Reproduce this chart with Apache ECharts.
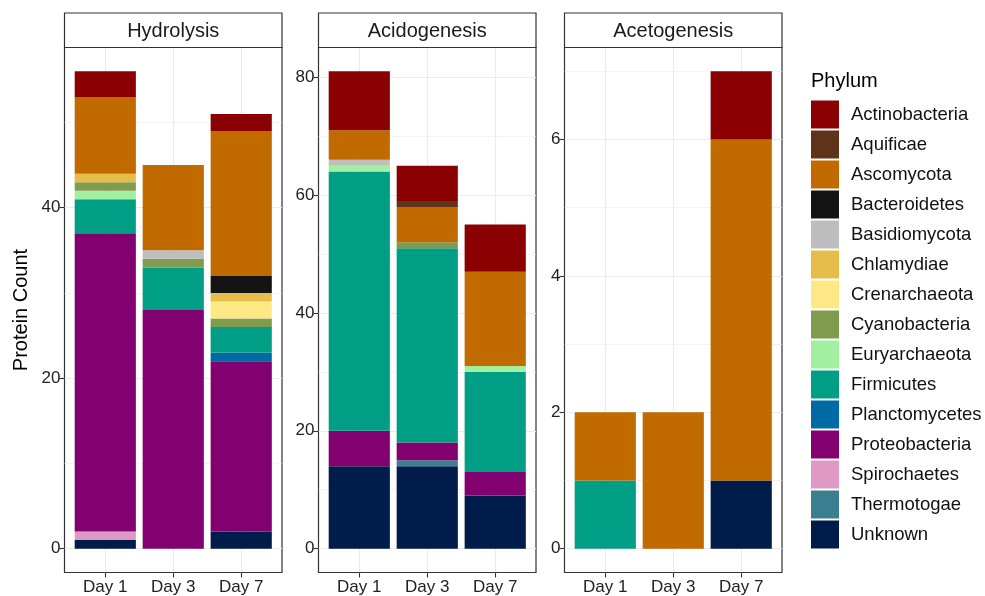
<!DOCTYPE html>
<html>
<head>
<meta charset="utf-8">
<script src="https://cdn.jsdelivr.net/npm/echarts@6/dist/echarts.min.js"></script>
<style>
  html, body { margin: 0; padding: 0; background: #fff; }
  #chart { width: 985px; height: 596px; }
</style>
</head>
<body>
<div id="chart"></div>
<script>
// Phyla in legend order (top of each stack = first entry)
const phyla = ['Actinobacteria', 'Aquificae', 'Ascomycota', 'Bacteroidetes', 'Basidiomycota',
  'Chlamydiae', 'Crenarchaeota', 'Cyanobacteria', 'Euryarchaeota', 'Firmicutes',
  'Planctomycetes', 'Proteobacteria', 'Spirochaetes', 'Thermotogae', 'Unknown'];
const phylumColors = ['#8B0000', '#5E3319', '#C06A00', '#141414', '#BEBEBE',
  '#E6BD4B', '#FEE885', '#7F9B4E', '#A2EFA0', '#009E85',
  '#006AA4', '#820070', '#DE9AC5', '#3B7E8F', '#001C4A'];

const days = ['Day 1', 'Day 3', 'Day 7'];
const stages = ['Hydrolysis', 'Acidogenesis', 'Acetogenesis'];

// Protein counts per phylum (rows follow `phyla`), columns follow `days`
const hydrolysisCounts = [
  [3, 0, 2], [0, 0, 0], [9, 10, 17], [0, 0, 2], [0, 1, 0],
  [1, 0, 1], [0, 0, 2], [1, 1, 1], [1, 0, 0], [4, 5, 3],
  [0, 0, 1], [35, 28, 20], [1, 0, 0], [0, 0, 0], [1, 0, 2]
];
const acidogenesisCounts = [
  [10, 6, 8], [0, 1, 0], [5, 6, 16], [0, 0, 0], [1, 0, 0],
  [0, 0, 0], [0, 0, 0], [0, 1, 0], [1, 0, 1], [44, 33, 17],
  [0, 0, 0], [6, 3, 4], [0, 0, 0], [0, 1, 0], [14, 14, 9]
];
const acetogenesisCounts = [
  [0, 0, 1], [0, 0, 0], [1, 2, 5], [0, 0, 0], [0, 0, 0],
  [0, 0, 0], [0, 0, 0], [0, 0, 0], [0, 0, 0], [1, 0, 0],
  [0, 0, 0], [0, 0, 0], [0, 0, 0], [0, 0, 0], [0, 0, 1]
];
const stageCounts = [hydrolysisCounts, acidogenesisCounts, acetogenesisCounts];

// Y-axis tick labels and minor gridline positions per facet
const majorTicks = [[0, 20, 40], [0, 20, 40, 60, 80], [0, 2, 4, 6]];
const minorTicks = [[10, 30, 50], [10, 30, 50, 70], [1, 3, 5, 7]];

// ---- layout ----
const panelLefts = [64.5, 318.5, 564.5];
const panelW = 217.5;
const panelTop = 47.5;
const panelH = 525;
const stripTop = 13;
const band = panelW / 3.2;       // one discrete unit
const FONT = "'Liberation Sans', Arial, Helvetica, sans-serif";
const GRID_COLOR = '#EBEBEB';
const INK = '#333333';

const grid = [], xAxis = [], yAxis = [], series = [], graphic = [];

stages.forEach(function (stage, p) {
  const counts = stageCounts[p];
  // free y scale with 5% expansion on both sides
  let maxTotal = 0;
  days.forEach(function (d, j) {
    let s = 0;
    counts.forEach(function (row) { s += row[j]; });
    maxTotal = Math.max(maxTotal, s);
  });
  const pad = maxTotal * 0.05;
  const yMin = -pad, yMax = maxTotal + pad;
  const L = panelLefts[p];

  // frame grid: panel background, border, gridlines, y ticks
  const gFrame = grid.length;
  grid.push({ left: L, top: panelTop, width: panelW, height: panelH, show: true,
    outerBoundsMode: 'none', containLabel: false,
    backgroundColor: '#fff', borderColor: INK, borderWidth: 1.2, z: 0 });
  const xFrame = xAxis.length;
  xAxis.push({ gridIndex: gFrame, type: 'value', min: 0.4, max: 3.6,
    axisLine: { show: false, onZero: false }, axisLabel: { show: false },
    axisTick: { show: false, customValues: [1, 2, 3] },
    splitLine: { show: true, lineStyle: { color: GRID_COLOR, width: 1.1 } } });
  const yMajor = yAxis.length;
  yAxis.push({ gridIndex: gFrame, type: 'value', min: yMin, max: yMax, position: 'left',
    axisLine: { show: false, onZero: false },
    axisTick: { show: true, length: 5, customValues: majorTicks[p], lineStyle: { color: INK, width: 1.1 } },
    axisLabel: { show: true, customValues: majorTicks[p], margin: 4, fontSize: 17,
      color: '#222', fontFamily: FONT },
    splitLine: { show: true, lineStyle: { color: GRID_COLOR, width: 1.1 } },
    name: p === 0 ? 'Protein Count' : '', nameLocation: 'middle', nameGap: 33,
    nameTextStyle: { fontSize: 20, color: '#000', fontFamily: FONT } });
  const yMinor = yAxis.length;
  yAxis.push({ gridIndex: gFrame, type: 'value', min: yMin, max: yMax, position: 'right',
    axisLine: { show: false, onZero: false }, axisLabel: { show: false },
    axisTick: { show: false, customValues: minorTicks[p] },
    splitLine: { show: true, lineStyle: { color: GRID_COLOR, width: 0.6 } } });
  series.push({ type: 'scatter', xAxisIndex: xFrame, yAxisIndex: yMajor, data: [], silent: true });
  series.push({ type: 'scatter', xAxisIndex: xFrame, yAxisIndex: yMinor, data: [], silent: true });

  // bar grid: inset so the category bands sit at discrete positions 1..3
  const gBar = grid.length;
  grid.push({ left: L + 0.1 * band, top: panelTop, width: 3 * band, height: panelH, show: false,
    outerBoundsMode: 'none', containLabel: false, z: 2 });
  const xBar = xAxis.length;
  xAxis.push({ gridIndex: gBar, type: 'category', data: days, position: 'bottom',
    axisLine: { show: false, onZero: false },
    axisTick: { show: true, alignWithLabel: true, length: 5, lineStyle: { color: INK, width: 1.1 } },
    axisLabel: { margin: 6, fontSize: 17, color: '#222', fontFamily: FONT },
    splitLine: { show: false } });
  const yBar = yAxis.length;
  yAxis.push({ gridIndex: gBar, type: 'value', min: yMin, max: yMax, show: false,
    axisLine: { onZero: false }, splitLine: { show: false } });

  // stack from the bottom: last phylum first; empty cells are left out
  for (let k = phyla.length - 1; k >= 0; k--) {
    series.push({
      type: 'bar', name: phyla[k], stack: stage,
      xAxisIndex: xBar, yAxisIndex: yBar,
      barWidth: '90%',
      itemStyle: { color: phylumColors[k], borderWidth: 0 },
      emphasis: { disabled: true },
      data: counts[k].map(function (v) { return v === 0 ? null : v; })
    });
  }

  // facet strip
  graphic.push({ type: 'rect', z: 10,
    shape: { x: L, y: stripTop, width: panelW, height: panelTop - stripTop },
    style: { fill: '#fff', stroke: INK, lineWidth: 1.2 } });
  graphic.push({ type: 'text', z: 11,
    style: { x: L + panelW / 2, y: (stripTop + panelTop) / 2 + 1, text: stage,
      font: '20px ' + FONT, fill: '#1A1A1A', align: 'center', verticalAlign: 'middle' } });
});

graphic.push({ type: 'text', z: 11,
  style: { x: 811, y: 81, text: 'Phylum', font: '20px ' + FONT, fill: '#000',
    align: 'left', verticalAlign: 'middle' } });

const chart = echarts.init(document.getElementById('chart'), null, { renderer: 'canvas' });
chart.setOption({
  animation: false,
  backgroundColor: '#fff',
  grid: grid,
  xAxis: xAxis,
  yAxis: yAxis,
  series: series,
  graphic: graphic,
  tooltip: { show: false },
  legend: {
    data: phyla,
    orient: 'vertical',
    left: 811, top: 100.5,
    padding: 0,
    icon: 'rect',
    itemWidth: 28, itemHeight: 28, itemGap: 2,
    selectedMode: false,
    itemStyle: { borderWidth: 0 },
    textStyle: { fontSize: 18.5, color: '#111', fontFamily: FONT, padding: [0, 0, 0, 7] }
  }
});
</script>
</body>
</html>
